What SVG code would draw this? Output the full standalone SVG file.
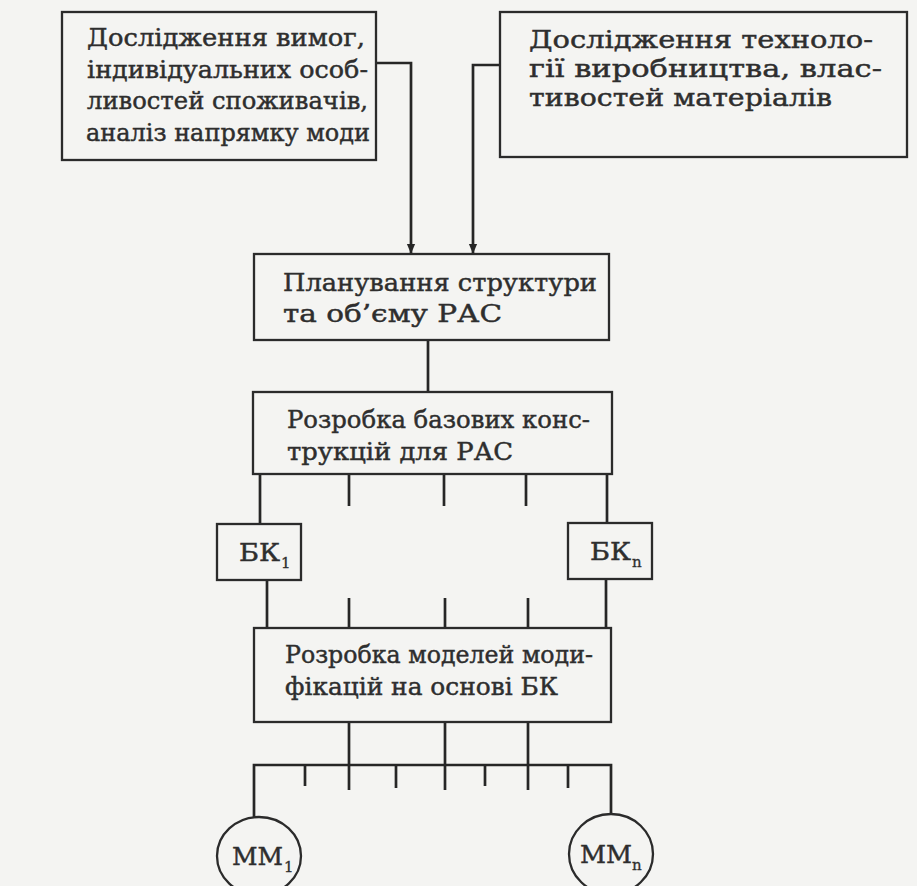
<svg xmlns="http://www.w3.org/2000/svg" width="917" height="886" viewBox="0 0 917 886">
  <defs>
    <style>
      .box { fill: none; stroke: #2b2b2b; stroke-width: 2.3; }
      .ln { fill: none; stroke: #262626; stroke-width: 2.7; }
      .t { font-family: "DejaVu Serif", "Liberation Serif", serif; font-size: 25px; fill: #2e2e2e; stroke: #2e2e2e; stroke-width: 0.45; }
      .sub { font-family: "DejaVu Serif", "Liberation Serif", serif; font-size: 15px; fill: #2e2e2e; stroke: #2e2e2e; stroke-width: 0.3; }
    </style>
    <marker id="arrd" markerUnits="userSpaceOnUse" markerWidth="10" markerHeight="12" refX="11" refY="5" orient="auto" viewBox="0 0 12 10">
      <path d="M0,0 L12,5 L0,10 Z" fill="#262626"/>
    </marker>
  </defs>
  <rect x="0" y="0" width="917" height="886" fill="#f4f4f2"/>

  <g id="connectors">
    <path class="ln" d="M376,63 H411 V253" marker-end="url(#arrd)"/>
    <path class="ln" d="M500,65 H473 V253" marker-end="url(#arrd)"/>
    <path class="ln" d="M428,340 V392"/>
    <path class="ln" d="M260,474 V524"/>
    <path class="ln" d="M607,474 V523"/>
    <path class="ln" d="M349,474 V506"/>
    <path class="ln" d="M444,474 V506"/>
    <path class="ln" d="M526,474 V506"/>
    <path class="ln" d="M267,580 V628"/>
    <path class="ln" d="M606,579 V628"/>
    <path class="ln" d="M349,598 V628"/>
    <path class="ln" d="M445,598 V628"/>
    <path class="ln" d="M528,598 V628"/>
    <path class="ln" d="M349,722 V790"/>
    <path class="ln" d="M445,722 V790"/>
    <path class="ln" d="M528,722 V790"/>
    <path class="ln" d="M254,817 V765 H611 V814"/>
    <path class="ln" d="M305,765 V786"/>
    <path class="ln" d="M396,765 V788"/>
    <path class="ln" d="M485,765 V786"/>
    <path class="ln" d="M568,765 V788"/>
  </g>

  <g id="node-requirements">
    <rect class="box" x="62" y="12" width="314" height="148"/>
    <text class="t" x="87" y="46" textLength="278" lengthAdjust="spacingAndGlyphs">Дослідження  вимог,</text>
    <text class="t" x="87" y="78" textLength="281" lengthAdjust="spacingAndGlyphs">індивідуальних  особ-</text>
    <text class="t" x="87" y="109" textLength="281" lengthAdjust="spacingAndGlyphs">ливостей споживачів,</text>
    <text class="t" x="86" y="141" textLength="284" lengthAdjust="spacingAndGlyphs">аналіз напрямку моди</text>
  </g>

  <g id="node-technology">
    <rect class="box" x="500" y="12" width="407" height="145"/>
    <text class="t" x="529" y="48" textLength="344" lengthAdjust="spacingAndGlyphs">Дослідження техноло-</text>
    <text class="t" x="529" y="77" textLength="353" lengthAdjust="spacingAndGlyphs">гії виробництва, влас-</text>
    <text class="t" x="529" y="106" textLength="303" lengthAdjust="spacingAndGlyphs">тивостей матеріалів</text>
  </g>

  <g id="node-planning">
    <rect class="box" x="254" y="254" width="355" height="86"/>
    <text class="t" x="283" y="291" textLength="314" lengthAdjust="spacingAndGlyphs">Планування структури</text>
    <text class="t" x="283" y="322" textLength="219" lengthAdjust="spacingAndGlyphs">та об’єму РАС</text>
  </g>

  <g id="node-base">
    <rect class="box" x="253" y="392" width="359" height="82"/>
    <text class="t" x="287" y="428" textLength="303" lengthAdjust="spacingAndGlyphs">Розробка базових конс-</text>
    <text class="t" x="287" y="460" textLength="226" lengthAdjust="spacingAndGlyphs">трукцій для  РАС</text>
  </g>

  <g id="node-bk1">
    <rect class="box" x="217" y="524" width="84" height="56"/>
    <text class="t" x="239" y="561" textLength="41" lengthAdjust="spacingAndGlyphs">БК</text>
    <text class="sub" x="281" y="568">1</text>
  </g>

  <g id="node-bkn">
    <rect class="box" x="568" y="523" width="84" height="56"/>
    <text class="t" x="590" y="560" textLength="41" lengthAdjust="spacingAndGlyphs">БК</text>
    <text class="sub" x="632" y="567">n</text>
  </g>

  <g id="node-models">
    <rect class="box" x="254" y="628" width="357" height="94"/>
    <text class="t" x="285" y="663" textLength="308" lengthAdjust="spacingAndGlyphs">Розробка моделей моди-</text>
    <text class="t" x="285" y="695" textLength="273" lengthAdjust="spacingAndGlyphs">фікацій на основі БК</text>
  </g>

  <g id="node-mm1">
    <ellipse class="box" cx="259" cy="856" rx="42" ry="39"/>
    <text class="t" x="232" y="865" textLength="51" lengthAdjust="spacingAndGlyphs">ММ</text>
    <text class="sub" x="284" y="872">1</text>
  </g>

  <g id="node-mmn">
    <ellipse class="box" cx="611" cy="854" rx="42" ry="40"/>
    <text class="t" x="580" y="863" textLength="52" lengthAdjust="spacingAndGlyphs">ММ</text>
    <text class="sub" x="632" y="870">n</text>
  </g>
</svg>
